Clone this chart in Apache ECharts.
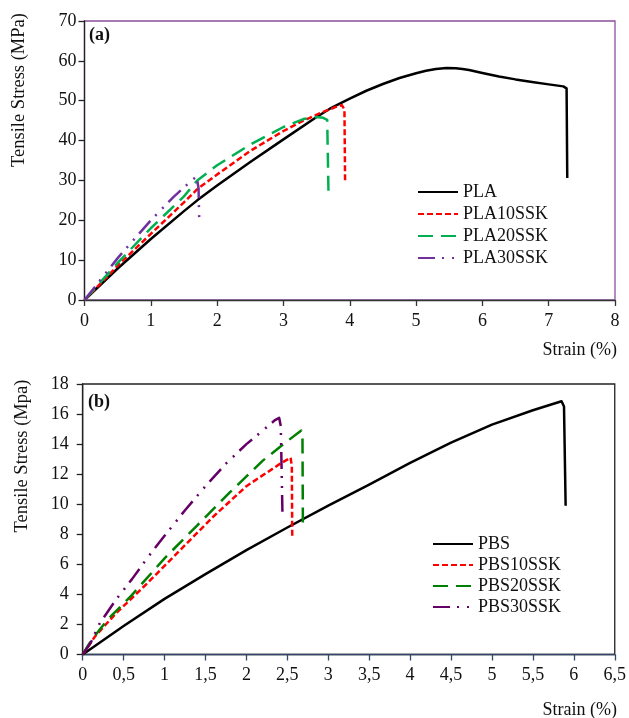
<!DOCTYPE html>
<html>
<head>
<meta charset="utf-8">
<script src="https://cdn.jsdelivr.net/npm/echarts@6/dist/echarts.min.js"></script>
<style>
  html, body { margin: 0; padding: 0; background: #fff; }
  #chart { width: 629px; height: 718px; }
</style>
</head>
<body>
<div id="chart"></div>
<script>
// Stress–strain curves, panel (a): PLA composites  [strain %, stress MPa]
const PLA = [[0,0],[0.5,7.9],[1,15.3],[1.5,22.3],[1.7,25],[2,28.7],[2.5,34.6],[3,40.3],[3.5,45.9],[3.7,48],[4,50.5],[4.25,52.5],[4.5,54.2],[4.75,55.7],[5,56.9],[5.15,57.5],[5.3,57.95],[5.46,58.2],[5.6,58.15],[5.7,57.95],[5.8,57.7],[6,56.95],[6.25,56.1],[6.5,55.35],[6.75,54.7],[7,54.1],[7.22,53.6],[7.27,53.1],[7.28,30.6]];
const PLA10SSK = [[0,0],[0.5,8.6],[1,16.6],[1.5,24.5],[1.7,27.8],[2,31.5],[2.5,37.4],[3,42.4],[3.3,45],[3.6,47.2],[3.8,48.5],[3.88,48.9],[3.92,47.8],[3.93,29.4]];
const PLA20SSK = [[0,0],[0.5,9.3],[1,18],[1.5,26],[1.7,30],[2,33.8],[2.5,39],[3,43.4],[3.3,45.4],[3.5,45.9],[3.6,45.7],[3.66,45.2],[3.68,26.3]];
const PLA30SSK = [[0,0],[0.5,10.5],[1,20],[1.34,25.8],[1.59,29.6],[1.69,31],[1.72,28],[1.73,20]];

// Panel (b): PBS composites  [strain %, stress MPa]
const PBS = [[0,0],[0.5,1.9],[1,3.7],[1.5,5.35],[2,6.95],[2.5,8.45],[3,9.9],[3.5,11.3],[4,12.75],[4.5,14.1],[5,15.3],[5.5,16.25],[5.85,16.85],[5.88,16.5],[5.9,9.9]];
const PBS10SSK = [[0,0],[0.15,1.2],[0.4,2.7],[0.8,4.8],[1.2,7.0],[1.6,9.2],[2,11.2],[2.4,12.65],[2.54,13.1],[2.555,12.5],[2.56,7.7]];
const PBS20SSK = [[0,0],[0.1,0.9],[0.3,2.3],[0.6,3.95],[1,6.4],[1.4,8.6],[1.8,10.8],[2.2,12.9],[2.5,14.2],[2.67,14.9],[2.685,14.3],[2.69,8.6]];
const PBS30SSK = [[0,0],[0.1,0.8],[0.2,2.0],[0.4,3.6],[0.6,5.0],[0.8,6.5],[1,7.9],[1.25,9.6],[1.5,11.2],[1.75,12.7],[2,14.0],[2.2,14.9],[2.35,15.6],[2.4,15.75],[2.42,15.2],[2.44,9.5]];

const namesA = ['PLA', 'PLA10SSK', 'PLA20SSK', 'PLA30SSK'];
const namesB = ['PBS', 'PBS10SSK', 'PBS20SSK', 'PBS30SSK'];

const FONT = "'Liberation Serif', 'Times New Roman', serif";
const TXT = '#111';

const styleA = [
  { color: '#000000', type: 'solid' },
  { color: '#ff0000', type: [6, 3] },
  { color: '#00b050', type: [15, 8] },
  { color: '#7030a0', type: [17, 7, 2, 8, 2, 7] }
];
const styleB = [
  { color: '#000000', type: 'solid' },
  { color: '#ff0000', type: [6, 3] },
  { color: '#008000', type: [15, 8] },
  { color: '#660066', type: [17, 7, 2, 8, 2, 7] }
];

function mkSeries(name, data, st, idx) {
  return {
    name: name, type: 'line', data: data,
    xAxisIndex: idx, yAxisIndex: idx,
    showSymbol: false, symbol: 'none', smooth: false,
    lineStyle: { color: st.color, width: 2.5, type: st.type, cap: 'butt', join: 'round' },
    itemStyle: { color: st.color },
    emphasis: { disabled: true }
  };
}

const axisCommon = (lineColor) => ({
  axisLine: { show: true, onZero: false, lineStyle: { color: lineColor, width: 1.3 } },
  axisTick: { show: true, inside: false, length: 6, lineStyle: { color: lineColor, width: 1.3 } },
  splitLine: { show: false }
});

const comma = v => String(v).replace('.', ',');

// legend keys show only the dashed line of each series
const legendCommon = {
  orient: 'vertical', itemWidth: 40, itemHeight: 10, selectedMode: false,
  itemStyle: { opacity: 0, borderWidth: 0 },
  textStyle: { color: TXT, fontFamily: FONT, fontSize: 18, lineHeight: 18 }
};

const option = {
  animation: false,
  backgroundColor: '#ffffff',
  grid: [
    { left: 84.5, top: 21, width: 530.5, height: 279, show: true, borderColor: '#8a4f9e', borderWidth: 1.3, backgroundColor: 'transparent' },
    { left: 82.7, top: 384, width: 534, height: 270.5, show: true, borderColor: '#222', borderWidth: 1.3, backgroundColor: 'transparent' }
  ],
  xAxis: [
    Object.assign(axisCommon('#333'), { type: 'value', gridIndex: 0, min: 0, max: 8, interval: 1,
      axisLabel: { color: TXT, fontFamily: FONT, fontSize: 18, margin: 12 } }),
    Object.assign(axisCommon('#34466a'), { type: 'value', gridIndex: 1, min: 0, max: 6.5, interval: 0.5,
      axisLabel: { color: TXT, fontFamily: FONT, fontSize: 18, margin: 12, formatter: comma } })
  ],
  yAxis: [
    Object.assign(axisCommon('#222'), { type: 'value', gridIndex: 0, min: 0, max: 70, interval: 10,
      axisLabel: { color: TXT, fontFamily: FONT, fontSize: 18, margin: 8 } }),
    Object.assign(axisCommon('#222'), { type: 'value', gridIndex: 1, min: 0, max: 18, interval: 2,
      axisLabel: { color: TXT, fontFamily: FONT, fontSize: 18, margin: 14 } })
  ],
  legend: [
    Object.assign({ data: namesA, left: 412, top: 178, itemGap: 4 }, legendCommon),
    Object.assign({ data: namesB, left: 427, top: 530, itemGap: 3 }, legendCommon)
  ],
  series: [
    mkSeries(namesA[0], PLA, styleA[0], 0),
    mkSeries(namesA[1], PLA10SSK, styleA[1], 0),
    mkSeries(namesA[2], PLA20SSK, styleA[2], 0),
    mkSeries(namesA[3], PLA30SSK, styleA[3], 0),
    mkSeries(namesB[0], PBS, styleB[0], 1),
    mkSeries(namesB[1], PBS10SSK, styleB[1], 1),
    mkSeries(namesB[2], PBS20SSK, styleB[2], 1),
    mkSeries(namesB[3], PBS30SSK, styleB[3], 1)
  ],
  graphic: [
    { type: 'text', x: 19, y: 90, rotation: Math.PI / 2,
      style: { text: 'Tensile Stress (MPa)', font: '18.5px ' + FONT, fill: TXT, textAlign: 'center', textVerticalAlign: 'middle' } },
    { type: 'text', x: 22, y: 456, rotation: Math.PI / 2,
      style: { text: 'Tensile Stress (Mpa)', font: '18.5px ' + FONT, fill: TXT, textAlign: 'center', textVerticalAlign: 'middle' } },
    { type: 'text', x: 617, y: 350,
      style: { text: 'Strain (%)', font: '18px ' + FONT, fill: TXT, textAlign: 'right', textVerticalAlign: 'middle' } },
    { type: 'text', x: 617, y: 710,
      style: { text: 'Strain (%)', font: '18px ' + FONT, fill: TXT, textAlign: 'right', textVerticalAlign: 'middle' } },
    { type: 'text', x: 89, y: 35,
      style: { text: '(a)', font: 'bold 18px ' + FONT, fill: TXT, textAlign: 'left', textVerticalAlign: 'middle' } },
    { type: 'text', x: 88, y: 402,
      style: { text: '(b)', font: 'bold 18px ' + FONT, fill: TXT, textAlign: 'left', textVerticalAlign: 'middle' } }
  ]
};

const chart = echarts.init(document.getElementById('chart'), null, { renderer: 'canvas' });
chart.setOption(option);
</script>
</body>
</html>
